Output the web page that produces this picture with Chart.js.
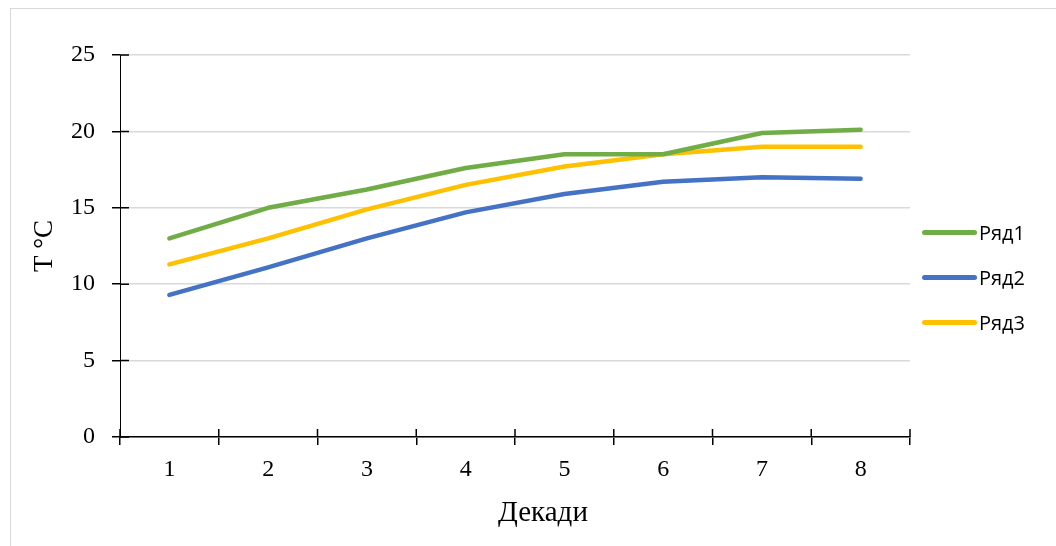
<!DOCTYPE html>
<html>
<head>
<meta charset="utf-8">
<script src="https://cdn.jsdelivr.net/npm/chart.js@4.4.0/dist/chart.umd.min.js"></script>
<style>
  html, body { margin: 0; padding: 0; background: #fff; }
  #wrap { position: relative; width: 1056px; height: 546px; overflow: hidden; }
  #frame { position: absolute; left: 10px; top: 8px; width: 1100px; height: 600px; border: 1px solid #d9d9d9; }
  #chart { position: absolute; left: 0; top: 0; }
  #legend { position: absolute; left: 922px; top: 210px; font-family: "Open Sans", sans-serif; font-size: 20px; color: #000; }
  .item { display: flex; align-items: center; height: 45px; }
  .swatch { width: 55px; height: 5px; border-radius: 3px; margin-right: 2px; }
  #xtitle { position: absolute; left: 0; top: 497px; width: 1086px; text-align: center; font: 29px/1 "Liberation Serif", serif; color: #000; }
</style>
</head>
<body>
<div id="wrap">
  <div id="frame"></div>
  <canvas id="chart" width="1056" height="546"></canvas>
  <div id="legend"></div>
  <div id="xtitle">Декади</div>
</div>
<script>
// chart data
const decades = ['1', '2', '3', '4', '5', '6', '7', '8'];
const row1 = [13.0, 15.0, 16.2, 17.6, 18.5, 18.5, 19.9, 20.1];
const row2 = [9.3, 11.1, 13.0, 14.7, 15.9, 16.7, 17.0, 16.9];
const row3 = [11.3, 13.0, 14.9, 16.5, 17.7, 18.5, 19.0, 19.0];
const seriesNames = ['Ряд1', 'Ряд2', 'Ряд3'];
const seriesColors = ['#70AD47', '#4472C4', '#FFC000'];
const yTicks = [0, 5, 10, 15, 20, 25];

// small tick marks on the inner side of both axes
const crossTicks = {
  id: 'crossTicks',
  beforeDatasetsDraw(chart) {
    const { ctx, chartArea, scales: { x, y } } = chart;
    ctx.save();
    ctx.strokeStyle = '#000';
    ctx.lineWidth = 1.5;
    ctx.beginPath();
    y.ticks.forEach((t, i) => {
      const py = y.getPixelForTick(i);
      ctx.moveTo(chartArea.left, py);
      ctx.lineTo(chartArea.left + 9, py);
    });
    for (let i = 0; i <= decades.length; i++) {
      const px = x.getPixelForValue(i - 0.5);
      ctx.moveTo(px, chartArea.bottom - 8);
      ctx.lineTo(px, chartArea.bottom);
    }
    ctx.stroke();
    ctx.restore();
  }
};

const makeSet = (label, data, color) => ({
  label: label,
  data: data,
  borderColor: color,
  backgroundColor: color,
  borderWidth: 4.5,
  borderCapStyle: 'round',
  borderJoinStyle: 'round',
  pointRadius: 0,
  tension: 0
});

const chart = new Chart(document.getElementById('chart'), {
  type: 'line',
  data: {
    labels: decades,
    datasets: [
      makeSet(seriesNames[0], row1, seriesColors[0]),
      makeSet(seriesNames[1], row2, seriesColors[1]),
      makeSet(seriesNames[2], row3, seriesColors[2])
    ]
  },
  options: {
    responsive: false,
    animation: false,
    layout: { padding: { top: 55, left: 0, right: 146, bottom: 0 } },
    plugins: {
      legend: { display: false },
      tooltip: { enabled: false }
    },
    scales: {
      x: {
        type: 'category',
        offset: true,
        grid: { offset: true, drawOnChartArea: false, tickLength: 8, color: '#000', lineWidth: 1.5 },
        border: { color: '#000', width: 1.5 },
        ticks: { color: '#000', padding: 10, font: { family: '"Liberation Serif", serif', size: 24 } },
        afterFit: (s) => { s.height = 109; }
      },
      y: {
        min: 0,
        max: 25,
        afterBuildTicks: (s) => { s.ticks = yTicks.map(v => ({ value: v })); },
        grid: { color: '#d9d9d9', lineWidth: 1.5, tickLength: 8, tickColor: '#000' },
        border: { color: '#000', width: 1 },
        ticks: { color: '#000', padding: 17, font: { family: '"Liberation Serif", serif', size: 24 } },
        title: {
          display: true,
          text: 'T °C',
          color: '#000',
          font: { family: '"Liberation Serif", serif', size: 27 },
          padding: { top: 29, bottom: 0 }
        },
        afterFit: (s) => { s.width = 120; }
      }
    }
  },
  plugins: [crossTicks]
});

// legend built from the datasets
const legendBox = document.getElementById('legend');
chart.data.datasets.forEach(ds => {
  const item = document.createElement('div');
  item.className = 'item';
  item.innerHTML = `<span class="swatch" style="background:${ds.borderColor}"></span><span>${ds.label}</span>`;
  legendBox.appendChild(item);
});
</script>
</body>
</html>
